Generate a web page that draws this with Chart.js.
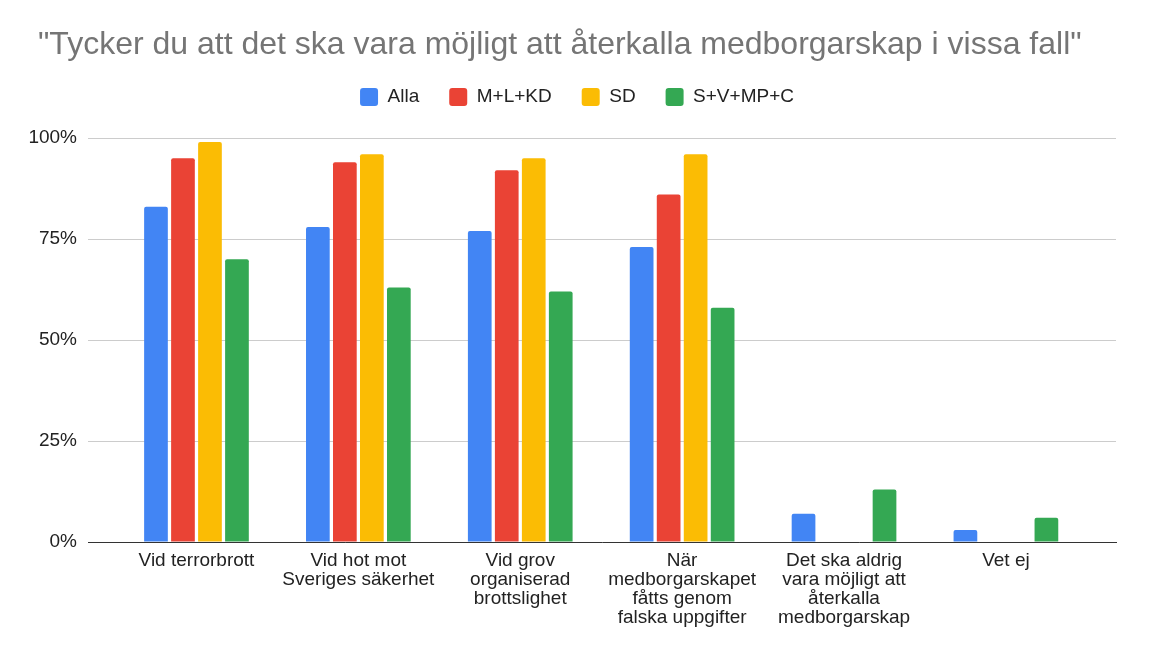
<!DOCTYPE html>
<html>
<head>
<meta charset="utf-8">
<script src="https://cdn.jsdelivr.net/npm/chart.js@4/dist/chart.umd.min.js"></script>
<style>
  html, body { margin: 0; padding: 0; background: #ffffff; }
  #wrap { width: 1150px; height: 648px; }
</style>
</head>
<body>
<div id="wrap"><canvas id="c" width="1150" height="648"></canvas></div>
<script>
const titleText = '"Tycker du att det ska vara möjligt att återkalla medborgarskap i vissa fall"';
const categories = [
  'Vid terrorbrott',
  'Vid hot mot Sveriges säkerhet',
  'Vid grov organiserad brottslighet',
  'När medborgarskapet fåtts genom falska uppgifter',
  'Det ska aldrig vara möjligt att återkalla medborgarskap',
  'Vet ej'
];
const tickLabels = [
  ['Vid terrorbrott'],
  ['Vid hot mot', 'Sveriges säkerhet'],
  ['Vid grov', 'organiserad', 'brottslighet'],
  ['När', 'medborgarskapet', 'fåtts genom', 'falska uppgifter'],
  ['Det ska aldrig', 'vara möjligt att', 'återkalla', 'medborgarskap'],
  ['Vet ej']
];
const seriesNames = ['Alla', 'M+L+KD', 'SD', 'S+V+MP+C'];
const alla    = [83, 78, 77, 73, 7, 3];
const mlkd    = [95, 94, 92, 86, null, null];
const sd      = [99, 96, 95, 96, null, null];
const svmpc   = [70, 63, 62, 58, 13, 6];
const yTicks  = [0, 25, 50, 75, 100];
const colors  = ['#4285F4', '#EA4335', '#FBBC04', '#34A853'];

const FONT = "'Liberation Sans', Arial, sans-serif";
const seriesValues = [alla, mlkd, sd, svmpc];

const datasets = seriesValues.map((vals, s) => ({
  label: seriesNames[s],
  data: vals.map((v, i) => ({ x: i, y: v })).filter(p => p.y !== null),
  backgroundColor: colors[s],
  borderWidth: 0,
  borderRadius: 2,
  categoryPercentage: 0.667,
  barPercentage: 0.878
}));

new Chart(document.getElementById('c'), {
  type: 'bar',
  data: { datasets },
  options: {
    responsive: false,
    animation: false,
    layout: { padding: { left: 38, right: 34, top: 0, bottom: 0 } },
    plugins: {
      tooltip: { enabled: false },
      title: {
        display: true,
        text: titleText,
        align: 'start',
        color: '#757575',
        font: { family: FONT, size: 32, weight: 'normal', lineHeight: 0.8 },
        padding: { top: 32, bottom: 0 }
      },
      legend: {
        display: true,
        position: 'top',
        align: 'center',
        labels: {
          color: '#222222',
          font: { family: FONT, size: 19 },
          boxWidth: 18,
          boxHeight: 18,
          useBorderRadius: true,
          borderRadius: 3,
          padding: 30
        }
      }
    },
    scales: {
      x: {
        type: 'linear',
        offset: false,
        min: -0.67,
        max: 5.68,
        afterBuildTicks: (scale) => {
          scale.ticks = categories.map((c, i) => ({ value: i }));
        },
        afterFit: (scale) => { scale.height = 106; },
        grid: { display: false, drawTicks: false, offset: false },
        border: { display: true, color: '#333333', width: 1 },
        ticks: {
          autoSkip: false,
          maxRotation: 0,
          minRotation: 0,
          padding: 9,
          color: '#222222',
          font: { family: FONT, size: 19, lineHeight: 1.0 },
          callback: (value) => tickLabels[value]
        }
      },
      y: {
        type: 'linear',
        min: 0,
        max: 105.3,
        afterBuildTicks: (scale) => {
          scale.ticks = yTicks.map(v => ({ value: v }));
        },
        afterFit: (scale) => {
          scale.width = 50;
          scale._computeLabelArea = () => undefined;
        },
        grid: { color: '#cccccc', lineWidth: 1, drawTicks: false },
        border: { display: false },
        ticks: {
          padding: 11,
          color: '#222222',
          font: { family: FONT, size: 19 },
          callback: (value) => value + '%'
        }
      }
    }
  }
});
</script>
</body>
</html>
